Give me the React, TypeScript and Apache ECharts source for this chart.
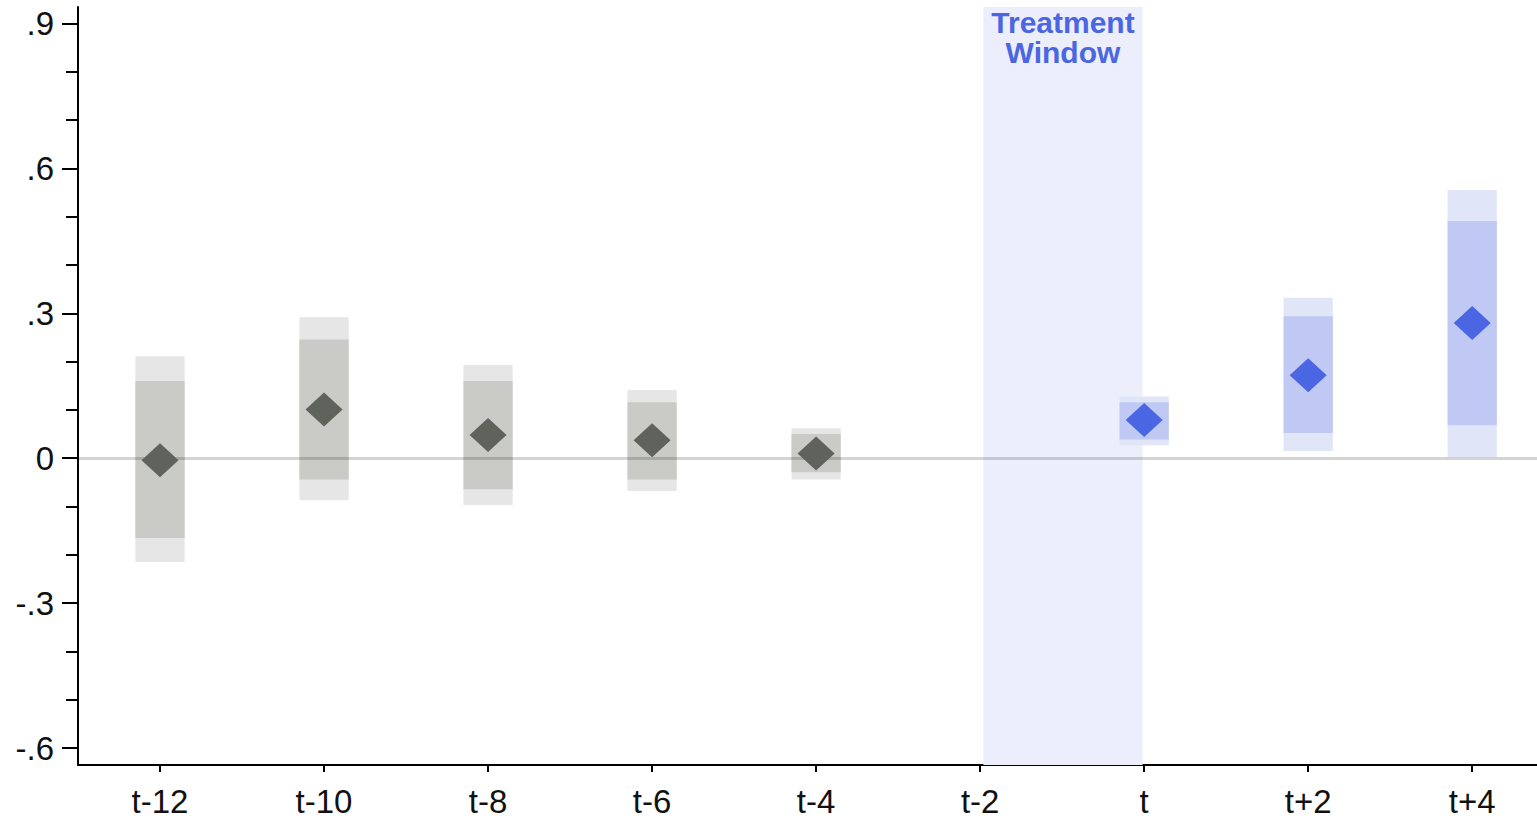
import React, { useEffect, useRef } from "react";
import * as echarts from "echarts";

// Event time (relative periods)
const prePeriods = [-12, -10, -8, -6, -4];
const postPeriods = [0, 2, 4];
// Point estimates
const preEst = [-0.004, 0.101, 0.048, 0.037, 0.01];
const postEst = [0.079, 0.172, 0.28];
// Inner (narrow) confidence interval
const preInnerLo = [-0.165, -0.044, -0.064, -0.044, -0.029];
const preInnerHi = [0.16, 0.246, 0.16, 0.116, 0.05];
const postInnerLo = [0.039, 0.052, 0.068];
const postInnerHi = [0.116, 0.294, 0.491];
// Outer (wide) confidence interval
const preOuterLo = [-0.215, -0.087, -0.097, -0.068, -0.044];
const preOuterHi = [0.211, 0.292, 0.193, 0.141, 0.062];
const postOuterLo = [0.027, 0.015, 0.002];
const postOuterHi = [0.128, 0.332, 0.555];

const xTicks = [-12, -10, -8, -6, -4, -2, 0, 2, 4];
const yMajor = [-0.6, -0.3, 0, 0.3, 0.6, 0.9];
const yMinor = [-0.5, -0.4, -0.2, -0.1, 0.1, 0.2, 0.4, 0.5, 0.7, 0.8];
const windowRange = [-1.96, -0.02];
const windowLabel = "Treatment\nWindow";

const HALF_W = 0.3;

function rectSeries(name: string, xs: number[], lo: number[], hi: number[], color: string, z: number) {
  return {
    name,
    type: "custom",
    z,
    silent: true,
    data: xs.map((x, i) => [x, lo[i], hi[i]]),
    renderItem: (params: any, api: any) => {
      const x = api.value(0);
      const p1 = api.coord([x - HALF_W, api.value(2)]);
      const p2 = api.coord([x + HALF_W, api.value(1)]);
      return {
        type: "rect",
        shape: { x: p1[0], y: p1[1], width: p2[0] - p1[0], height: p2[1] - p1[1] },
        style: { fill: color },
      };
    },
  };
}

export default function App() {
  const ref = useRef<HTMLDivElement>(null);
  useEffect(() => {
    if (!ref.current) return;
    const chart = echarts.init(ref.current, undefined, { renderer: "svg" });
    const axisFont = { fontFamily: "Arial, 'Liberation Sans', sans-serif", fontSize: 33, color: "#111" };
    chart.setOption({
      animation: false,
      backgroundColor: "#ffffff",
      grid: { left: 78, right: 0, top: 7, bottom: 54 },
      xAxis: {
        type: "value",
        min: -13,
        max: 4.79,
        splitLine: { show: false },
        axisLine: { show: true, onZero: false, lineStyle: { color: "#000", width: 2 } },
        axisTick: { show: true, customValues: xTicks, length: 7, lineStyle: { color: "#000", width: 2 } },
        axisLabel: {
          customValues: xTicks,
          margin: 20,
          ...axisFont,
          formatter: (v: number) => (v === 0 ? "t" : v < 0 ? `t${v}` : `t+${v}`),
        },
      },
      yAxis: [
        {
          type: "value",
          min: -0.635,
          max: 0.934,
          position: "left",
          splitLine: { show: false },
          axisLine: { show: true, onZero: false, lineStyle: { color: "#000", width: 2 } },
          axisTick: { show: true, customValues: yMajor, length: 16, lineStyle: { color: "#000", width: 2 } },
          axisLabel: {
            customValues: yMajor,
            margin: 24,
            ...axisFont,
            formatter: (v: number) => {
              const r = Math.round(v * 10) / 10;
              if (r === 0) return "0";
              const s = Math.abs(r).toFixed(1).replace(/^0/, "");
              return r < 0 ? "-" + s : s;
            },
          },
        },
        {
          type: "value",
          min: -0.635,
          max: 0.934,
          position: "left",
          splitLine: { show: false },
          axisLine: { show: false, onZero: false },
          axisTick: { show: true, customValues: yMinor, length: 12, lineStyle: { color: "#000", width: 2 } },
          axisLabel: { show: false },
        },
      ],
      series: [
        {
          name: "window",
          type: "line",
          data: [],
          z: 0,
          markArea: {
            silent: true,
            itemStyle: { color: "#ECEEFB" },
            label: {
              show: true,
              position: "insideTop",
              distance: 0,
              formatter: windowLabel,
              fontFamily: "Arial, 'Liberation Sans', sans-serif",
              fontWeight: "bold",
              fontSize: 30,
              lineHeight: 30,
              color: "#4A66E2",
              align: "center",
            },
            data: [[{ xAxis: windowRange[0] }, { xAxis: windowRange[1] }]],
          },
        },
        rectSeries("preOuter", prePeriods, preOuterLo, preOuterHi, "#E6E6E6", 2),
        rectSeries("preInner", prePeriods, preInnerLo, preInnerHi, "#CACBC6", 3),
        rectSeries("postOuter", postPeriods, postOuterLo, postOuterHi, "#E0E5F8", 2),
        rectSeries("postInner", postPeriods, postInnerLo, postInnerHi, "#C0C9F3", 3),
        {
          name: "zero",
          type: "line",
          data: [],
          z: 4,
          markLine: {
            silent: true,
            symbol: "none",
            label: { show: false },
            lineStyle: { color: "rgba(0,0,0,0.17)", width: 3, type: "solid" },
            data: [{ yAxis: 0 }],
          },
        },
        {
          name: "pre",
          type: "scatter",
          z: 5,
          symbol: "diamond",
          symbolSize: [37, 34],
          itemStyle: { color: "#60625C", opacity: 1 },
          data: prePeriods.map((x, i) => [x, preEst[i]]),
        },
        {
          name: "post",
          type: "scatter",
          z: 5,
          symbol: "diamond",
          symbolSize: [37, 34],
          itemStyle: { color: "#4A66E2", opacity: 1 },
          data: postPeriods.map((x, i) => [x, postEst[i]]),
        },
      ],
    });
    return () => chart.dispose();
  }, []);
  return (
    <div
      ref={ref}
      style={{ position: "fixed", left: 0, top: 0, width: 1537, height: 819, background: "#fff" }}
    />
  );
}
